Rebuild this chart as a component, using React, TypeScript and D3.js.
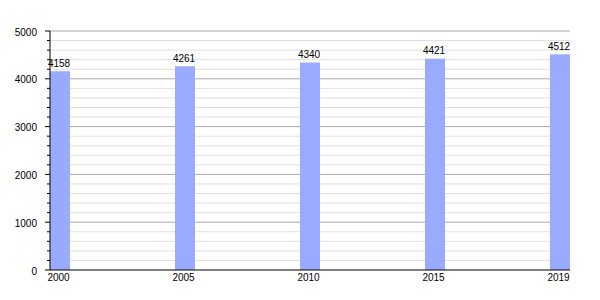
import React from "react";
import * as d3 from "d3";

const years = ["2000", "2005", "2010", "2015", "2019"];
const population = [4158, 4261, 4340, 4421, 4512];
const majorTicks = [0, 1000, 2000, 3000, 4000, 5000];

export default function App() {
  const W = 600, H = 300;
  const x0 = 50, x1 = 570, yTop = 31, yBot = 270;
  const x = d3.scalePoint<string>().domain(years).range([60, 560]);
  const y = d3.scaleLinear().domain([0, 5000]).range([yBot, yTop]);
  const minorTicks = d3.range(0, 5001, 200).filter((v) => v % 1000 !== 0);
  const font = "'Liberation Sans', Arial, sans-serif";
  const barW = 20;
  return (
    <svg width={W} height={H} style={{ position: "absolute", left: 0, top: 0, background: "#fff" }} fontFamily={font}>
      {minorTicks.map((v) => (
        <g key={"m" + v}>
          <line x1={x0} x2={x1} y1={y(v)} y2={y(v)} stroke="#e0e0e0" strokeWidth={1} />
          <line x1={x0 - 3} x2={x0} y1={y(v)} y2={y(v)} stroke="#000" strokeWidth={1} />
        </g>
      ))}
      {majorTicks.map((v) => (
        <g key={"M" + v}>
          {v > 0 && <line x1={x0} x2={x1} y1={y(v)} y2={y(v)} stroke="#aaaaaa" strokeWidth={1} />}
          <line x1={x0 - 5} x2={x0} y1={y(v)} y2={y(v)} stroke="#000" strokeWidth={1} />
          <text x={37} y={y(v) + 1} dy="0.35em" textAnchor="end" fontSize={10} fill="#000">{v}</text>
        </g>
      ))}
      {years.map((yr, i) => (
        <g key={yr}>
          <rect x={x(yr)! - barW / 2} y={y(population[i])} width={barW} height={yBot - y(population[i])} fill="#99aaff" />
          <text x={x(yr)! - 1} y={y(population[i]) - 4.5} textAnchor="middle" fontSize={10} fill="#000">{population[i]}</text>
          <text x={x(yr)! - 1.5} y={281} textAnchor="middle" fontSize={10} fill="#000">{yr}</text>
        </g>
      ))}
      <line x1={x0} x2={x0} y1={yTop} y2={yBot} stroke="#000" strokeWidth={1} />
      <line x1={x0} x2={x1} y1={yBot} y2={yBot} stroke="#000" strokeWidth={1} />
    </svg>
  );
}
